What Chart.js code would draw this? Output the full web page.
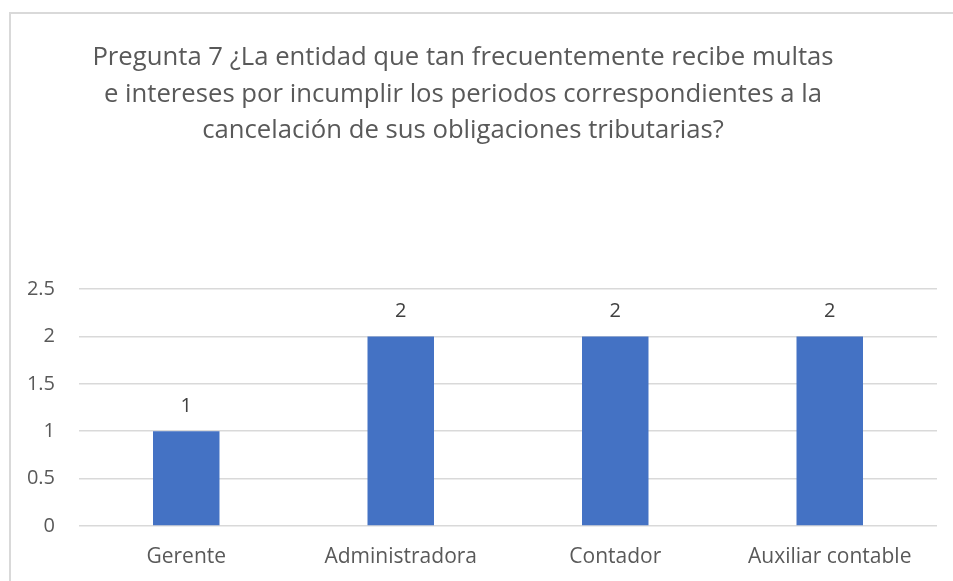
<!DOCTYPE html>
<html>
<head>
<meta charset="utf-8">
<script src="https://cdn.jsdelivr.net/npm/chart.js@4.4.1/dist/chart.umd.min.js"></script>
<style>
    html, body { margin: 0; padding: 0; background: #fff; }
    #wrap { position: relative; width: 953px; height: 581px; overflow: hidden; }
    #frame {
        position: absolute; left: 9px; top: 12px; width: 960px; height: 600px;
        border-left: 2px solid #d9d9d9; border-top: 2px solid #d9d9d9;
    }
    #myChart { position: absolute; left: 0; top: 0; }
</style>
</head>
<body>
<div id="wrap">
    <div id="frame"></div>
    <canvas id="myChart" width="953" height="581"></canvas>
</div>
<script>
(function () {
    "use strict";

    const categories = ['Gerente', 'Administradora', 'Contador', 'Auxiliar contable'];
    const respuestas = [1, 2, 2, 2];
    const titleLines = [
        'Pregunta 7 ¿La entidad que tan frecuentemente recibe multas',
        'e intereses por incumplir los periodos correspondientes a la',
        'cancelación de sus obligaciones tributarias?'
    ];

    const FONT = "'Open Sans', sans-serif";

    // title drawn by hand so it can sit centred on the frame, not the canvas
    const titlePlugin = {
        id: 'titleLines',
        afterDraw(chart) {
            const ctx = chart.ctx;
            ctx.save();
            ctx.fillStyle = '#595959';
            ctx.font = '25.7px ' + FONT;
            ctx.textAlign = 'center';
            ctx.textBaseline = 'middle';
            titleLines.forEach((line, i) => {
                ctx.fillText(line, 463, 58 + i * 36.5);
            });
            ctx.restore();
        }
    };

    const valueLabels = {
        id: 'valueLabels',
        afterDatasetsDraw(chart) {
            const ctx = chart.ctx;
            const meta = chart.getDatasetMeta(0);
            ctx.save();
            ctx.fillStyle = '#404040';
            ctx.font = '20px ' + FONT;
            ctx.textAlign = 'center';
            ctx.textBaseline = 'middle';
            meta.data.forEach((bar, i) => {
                ctx.fillText(String(respuestas[i]), bar.x, bar.y - 25);
            });
            ctx.restore();
        }
    };

    function initCharts() {
        var ctx = document.getElementById('myChart').getContext('2d');
        new Chart(ctx, {
            type: 'bar',
            data: {
                labels: categories,
                datasets: [{
                    label: 'Respuestas',
                    data: respuestas,
                    backgroundColor: '#4472c4',
                    borderColor: '#4472c4',
                    borderWidth: 0,
                    barPercentage: 0.31,
                    categoryPercentage: 1
                }]
            },
            options: {
                responsive: false,
                animation: false,
                layout: { padding: { top: 289, right: 16, left: 0, bottom: 0 } },
                plugins: {
                    legend: { display: false },
                    title: { display: false },
                    tooltip: { enabled: false }
                },
                scales: {
                    x: {
                        grid: { display: false, drawTicks: false },
                        border: { display: false },
                        ticks: { color: '#595959', font: { family: FONT, size: 21 }, padding: 18 },
                        afterFit(scale) { scale.height = 55; }
                    },
                    y: {
                        min: 0,
                        max: 2.5,
                        grid: { color: '#d9d9d9', lineWidth: 1.5, drawTicks: false },
                        border: { display: false },
                        ticks: {
                            stepSize: 0.5,
                            color: '#595959',
                            font: { family: FONT, size: 20 },
                            padding: 24,
                            callback: (v) => String(v)
                        },
                        afterFit(scale) { scale.width = 79; }
                    }
                }
            },
            plugins: [valueLabels, titlePlugin]
        });
    }

    document.addEventListener('DOMContentLoaded', initCharts);
})();
</script>
</body>
</html>
